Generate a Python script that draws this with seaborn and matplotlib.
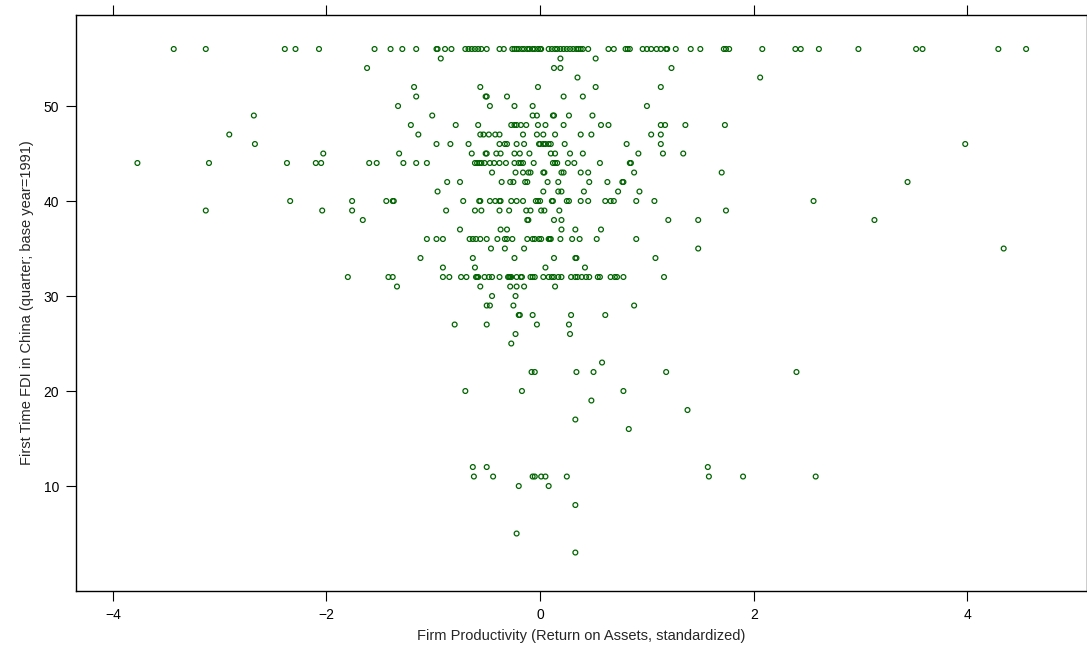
import matplotlib
matplotlib.use("Agg")
import matplotlib.pyplot as plt
import seaborn as sns
import pandas as pd

# Firm productivity (standardized ROA) grouped by quarter of first FDI (base year 1991)
q56 = [-3.43, -3.13, -2.39, -2.29, -2.07, -1.55, -1.40, -1.29, -1.16, -0.97, -0.96, -0.89,
       -0.83, -0.70, -0.67, -0.64, -0.61, -0.58, -0.55, -0.50, -0.38, -0.34,
       -0.26, -0.24, -0.22, -0.20, -0.17, -0.15, -0.12, -0.10, -0.07, -0.05, -0.02, 0.00, 0.01,
       0.08, 0.11, 0.14, 0.16, 0.19, 0.22, 0.25, 0.28, 0.31, 0.34, 0.36,
       0.38, 0.40, 0.45, 0.64, 0.69, 0.80, 0.82, 0.84, 0.96, 1.00, 1.04, 1.09, 1.13, 1.18,
       1.19, 1.27, 1.41, 1.50, 1.72, 1.74, 1.77, 2.08, 2.39, 2.44, 2.61, 2.98, 3.52, 3.58,
       4.29, 4.55]
q55 = [-0.93, 0.19, 0.52]
q54 = [-1.62, 0.13, 0.19, 1.23]
q53 = [0.35, 2.06]
q52 = [-1.18, -0.56, -0.02, 0.52, 1.13]
q51 = [-1.16, -0.51, -0.50, -0.31, 0.22, 0.40]
q50 = [-1.33, -0.47, -0.24, -0.07, 1.00]
q49 = [-2.68, -1.01, -0.07, -0.03, 0.12, 0.13, 0.27, 0.49]
q48 = [-1.21, -0.79, -0.58, -0.27, -0.24, -0.22, -0.18, -0.13, -0.02, 0.05, 0.22, 0.57,
       0.64, 1.13, 1.17, 1.36, 1.73]
q47 = [-2.91, -1.14, -0.56, -0.53, -0.48, -0.42, -0.38, -0.16, -0.03, 0.03, 0.14, 0.38,
       0.48, 1.04, 1.13]
q46 = [-2.67, -0.97, -0.84, -0.67, -0.38, -0.33, -0.31, -0.22, -0.15, -0.01, 0.00, 0.03,
       0.05, 0.08, 0.10, 0.23, 0.81, 1.13, 3.98]
q45 = [-2.03, -1.32, -0.64, -0.51, -0.50, -0.41, -0.37, -0.24, -0.19, -0.10, 0.10, 0.14,
       0.28, 0.40, 0.92, 1.15, 1.34]
q44 = [-3.77, -3.10, -2.37, -2.10, -2.05, -1.60, -1.53, -1.28, -1.16, -1.06, -0.61, -0.59,
       -0.57, -0.55, -0.52, -0.47, -0.43, -0.38, -0.32, -0.24, -0.20, -0.18, -0.16, -0.06,
       0.12, 0.14, 0.16, 0.26, 0.32, 0.56, 0.84, 0.85]
q43 = [-0.45, -0.23, -0.16, -0.11, -0.09, 0.03, 0.04, 0.20, 0.22, 0.38, 0.45, 0.88, 1.70]
q42 = [-0.87, -0.75, -0.36, -0.28, -0.25, -0.14, -0.12, 0.07, 0.17, 0.46, 0.63, 0.77,
       0.78, 3.44]
q41 = [-0.96, 0.03, 0.17, 0.20, 0.41, 0.73, 0.93]
q40 = [-2.34, -1.76, -1.44, -1.38, -1.37, -0.72, -0.57, -0.56, -0.47, -0.42, -0.38, -0.37,
       -0.27, -0.22, -0.16, -0.04, -0.02, 0.00, 0.11, 0.12, 0.25, 0.27, 0.38, 0.45, 0.61,
       0.66, 0.69, 0.90, 1.07, 2.56]
q39 = [-3.13, -2.04, -1.76, -0.88, -0.61, -0.55, -0.38, -0.29, -0.13, -0.09, 0.01, 0.04,
       0.18, 1.74]
q38 = [-1.66, -0.12, -0.11, 0.13, 0.20, 1.20, 1.48, 3.13]
q37 = [-0.75, -0.37, -0.31, 0.20, 0.33, 0.57]
q36 = [-1.06, -0.97, -0.91, -0.66, -0.63, -0.60, -0.56, -0.50, -0.40, -0.33, -0.31, -0.26,
       -0.12, -0.07, -0.05, -0.01, 0.01, 0.08, 0.09, 0.10, 0.19, 0.30, 0.37, 0.53, 0.90]
q35 = [-0.46, -0.33, -0.15, 1.48, 4.34]
q34 = [-1.12, -0.63, -0.24, 0.13, 0.33, 0.34, 1.08]
q33 = [-0.91, -0.61, 0.05, 0.42]
q32 = [-1.80, -1.42, -1.38, -0.91, -0.85, -0.74, -0.69, -0.60, -0.59, -0.58, -0.52, -0.48,
       -0.45, -0.38, -0.30, -0.29, -0.28, -0.27, -0.22, -0.18, -0.17, -0.09, -0.07, -0.05,
       0.03, 0.08, 0.11, 0.13, 0.17, 0.20, 0.29, 0.33, 0.35, 0.39, 0.43, 0.46, 0.54, 0.56,
       0.66, 0.70, 0.72, 0.78, 1.16]
q31 = [-1.34, -0.56, -0.28, -0.22, -0.15, 0.14]
q30 = [-0.45, -0.23]
q29 = [-0.50, -0.47, -0.25, 0.88]
q28 = [-0.20, -0.19, -0.07, 0.29, 0.61]
q27 = [-0.80, -0.50, -0.03, 0.27]
q26 = [-0.23, 0.28]
q25 = [-0.27]
q23 = [0.58]
q22 = [-0.08, -0.05, 0.34, 0.50, 1.18, 2.40]
q20 = [-0.70, -0.17, 0.78]
q19 = [0.48]
q18 = [1.38]
q17 = [0.33]
q16 = [0.83]
q12 = [-0.63, -0.50, 1.57]
q11 = [-0.62, -0.44, -0.07, -0.05, 0.01, 0.05, 0.25, 1.58, 1.90, 2.58]
q10 = [-0.20, 0.08]
q8 = [0.33]
q5 = [-0.22]
q3 = [0.33]

quarters = [56, 55, 54, 53, 52, 51, 50, 49, 48, 47, 46, 45, 44, 43, 42, 41, 40, 39, 38, 37,
            36, 35, 34, 33, 32, 31, 30, 29, 28, 27, 26, 25, 23, 22, 20, 19, 18, 17, 16, 12,
            11, 10, 8, 5, 3]
roa_by_quarter = [q56, q55, q54, q53, q52, q51, q50, q49, q48, q47, q46, q45, q44, q43, q42,
                  q41, q40, q39, q38, q37, q36, q35, q34, q33, q32, q31, q30, q29, q28, q27,
                  q26, q25, q23, q22, q20, q19, q18, q17, q16, q12, q11, q10, q8, q5, q3]

x_ticks = [-4, -2, 0, 2, 4]
y_ticks = [10, 20, 30, 40, 50]

rows = []
for q, xs in zip(quarters, roa_by_quarter):
    for v in xs:
        rows.append({"roa": v, "fdi_quarter": q})
df = pd.DataFrame(rows)

sns.set_style("white")
plt.rcParams["font.family"] = ["Liberation Sans", "DejaVu Sans"]

W, H = 1087, 650
fig = plt.figure(figsize=(W / 100, H / 100), dpi=100)
ax = fig.add_axes([76 / W, 1 - 591 / H, (W - 76) / W, (591 - 15) / H])

sns.scatterplot(data=df, x="roa", y="fdi_quarter", ax=ax, marker="o", s=12,
                facecolors="none", edgecolors="#006400", linewidths=0.9, legend=False)

ax.set_xlim(-4.345, 5.12)
ax.set_ylim(-1.05, 59.58)
ax.set_xticks(x_ticks)
ax.set_yticks(y_ticks)
ax.tick_params(axis="both", direction="out", length=7, width=0.8, color="black",
               labelsize=10, labelcolor="black")
ax.tick_params(axis="x", top=True, labeltop=False, bottom=True, pad=5)
ax.tick_params(axis="y", left=True, right=False, pad=5)
for sp in ax.spines.values():
    sp.set_color("black")
    sp.set_linewidth(1.0)

ax.set_xlabel("Firm Productivity (Return on Assets, standardized)", fontsize=10.5, labelpad=5)
ax.set_ylabel("First Time FDI in China (quarter; base year=1991)", fontsize=10.5, labelpad=7)

fig.savefig("out.png", dpi=100)
